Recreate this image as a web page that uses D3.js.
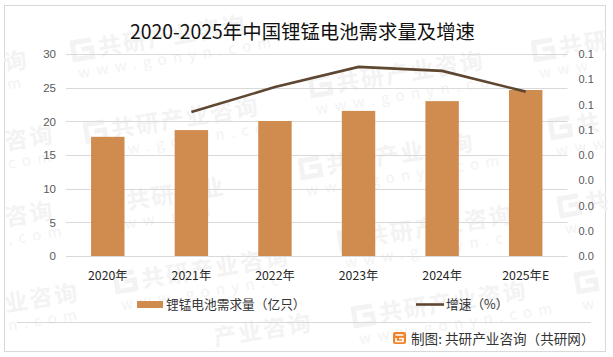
<!DOCTYPE html>
<html>
<head>
<meta charset="utf-8">
<script src="https://cdn.jsdelivr.net/npm/d3@7"></script>
<style>
  html, body { margin: 0; padding: 0; background: #fff; }
  svg { display: block; }
  text { font-family: "Noto Sans CJK SC", "Liberation Sans", sans-serif; }
</style>
</head>
<body>
<div id="chart"></div>
<script>
const categories = ["2020年", "2021年", "2022年", "2023年", "2024年", "2025年E"];
const demand = [17.7, 18.7, 20.05, 21.55, 23, 24.65];
const growth = [null, 0.057, 0.0669, 0.0749, 0.0733, 0.0651];
const leftTicks = [0, 5, 10, 15, 20, 25, 30];
const rightTicks = [0, 0.01, 0.02, 0.03, 0.04, 0.05, 0.06, 0.07, 0.08];

// watermark stamps: x, y, name, url, logo. the ones at the edge only keep the part that shows
const stamps = [
  [72, 60, "共研产业咨询", "www.gonyn.com", true],
  [310, 96, "共研产业咨询", "www.gonyn.co", true],
  [85, 142, "共研产业咨询", "www.gonyn.com", true],
  [533, 60, "共研", "www", true],
  [550, 138, "共", "www", true],
  [559, 216, "共", "w", true],
  [576, 292, "", "w", true],
  [100, 214, "共研产业", "www.gon", true],
  [300, 178, "共研产业咨询", "www.gonyn.com", true],
  [115, 292, "共研产业咨询", "www.gonyn.c", true],
  [339, 250, "共研产业咨询", "www.gonyn.com", true],
  [353, 326, "共研产业咨询", "www.gonyn.com", true],
  [5, 71, "询", "m", false],
  [6, 150, "咨询", "com", false],
  [6, 226, "咨询", ".com", false],
  [6, 312, "业咨询", "n.com", false],
  [215, 346, "产业咨询", "", false]
];

const width = 613, height = 357;
const margin = { top: 54, right: 45.5, bottom: 101, left: 66 };
const innerW = width - margin.left - margin.right;
const innerH = height - margin.top - margin.bottom;

const svg = d3.select("#chart").append("svg")
  .attr("width", width)
  .attr("height", height);

svg.append("rect")
  .attr("x", 4.5).attr("y", 5.5)
  .attr("width", 601).attr("height", 346)
  .attr("fill", "#fff")
  .attr("stroke", "#d9d9d9")
  .attr("stroke-width", 1);

// watermark goes first so the bars sit on top of it
const mark = svg.append("g");
stamps.forEach(([sx, sy, name, url, hasLogo]) => {
  const s = mark.append("g").attr("transform", `translate(${sx},${sy}) rotate(-9)`);
  if (hasLogo) {
    s.append("path")
      .attr("d", "M22 -17H3V0H21V-9H11")
      .attr("fill", "none")
      .attr("stroke", "#f3f3f3")
      .attr("stroke-width", 5);
  }
  s.append("text")
    .attr("x", hasLogo ? 28 : 0)
    .attr("font-size", 23).attr("font-weight", 700).attr("letter-spacing", 2)
    .attr("fill", "#f3f3f3")
    .text(name);
  s.append("text")
    .attr("x", hasLogo ? 4 : 0)
    .attr("y", 19)
    .attr("font-size", 15).attr("letter-spacing", 6.5)
    .attr("fill", "#f3f3f3")
    .text(url);
});

const g = svg.append("g").attr("transform", `translate(${margin.left},${margin.top})`);

const x = d3.scaleBand().domain(categories).range([0, innerW]).paddingInner(0.6).paddingOuter(0.3);
const xCenter = d => x(d) + x.bandwidth() / 2;
const y = d3.scaleLinear().domain([0, 30]).range([innerH, 0]);
const y2 = d3.scaleLinear().domain([0, 0.08]).range([innerH, 0]);

// gridlines
g.append("g")
  .selectAll("line")
  .data(leftTicks)
  .enter()
  .append("line")
  .attr("x1", 0).attr("x2", innerW)
  .attr("y1", d => Math.round(y(d)) + 0.5)
  .attr("y2", d => Math.round(y(d)) + 0.5)
  .attr("stroke", "#d9d9d9");

g.selectAll(".bar")
  .data(demand)
  .enter()
  .append("rect")
  .attr("class", "bar")
  .attr("x", (d, i) => x(categories[i]))
  .attr("y", d => y(d))
  .attr("width", x.bandwidth())
  .attr("height", d => innerH - y(d))
  .attr("fill", "#d08b4f");

const line = d3.line()
  .defined(d => d.v !== null)
  .x(d => xCenter(d.c))
  .y(d => y2(d.v));

g.append("path")
  .datum(categories.map((c, i) => ({ c, v: growth[i] })))
  .attr("fill", "none")
  .attr("stroke", "#5e4630")
  .attr("stroke-width", 2.6)
  .attr("d", line);

// axes
const leftAxis = g.append("g")
  .call(d3.axisLeft(y).tickValues(leftTicks).tickSize(0).tickPadding(10));
leftAxis.select(".domain").remove();
leftAxis.selectAll("text").style("font-size", "11.5px").style("fill", "#595959")
  .style("font-family", "'Liberation Sans', sans-serif");

const rightAxis = g.append("g")
  .attr("transform", `translate(${innerW},0)`)
  .call(d3.axisRight(y2).tickValues(rightTicks).tickFormat(d3.format(".1f")).tickSize(0).tickPadding(11));
rightAxis.select(".domain").remove();
rightAxis.selectAll("text").style("font-size", "11px").style("fill", "#595959")
  .style("font-family", "'Liberation Sans', sans-serif");

const bottomAxis = g.append("g")
  .attr("transform", `translate(0,${innerH})`)
  .call(d3.axisBottom(x).tickSize(0).tickPadding(15));
bottomAxis.select(".domain").remove();
bottomAxis.selectAll("text").style("font-size", "12.3px").style("fill", "#262626");

// title
svg.append("text")
  .attr("x", 302.5).attr("y", 39)
  .attr("text-anchor", "middle")
  .style("font-size", "19.4px")
  .style("fill", "#111")
  .text("2020-2025年中国锂锰电池需求量及增速");

// legend
svg.append("rect")
  .attr("x", 137).attr("y", 301)
  .attr("width", 26).attr("height", 7)
  .attr("fill", "#d08b4f");
svg.append("text")
  .attr("x", 166).attr("y", 309)
  .style("font-size", "12.7px").style("fill", "#333")
  .text("锂锰电池需求量（亿只）");
svg.append("line")
  .attr("x1", 416).attr("x2", 444)
  .attr("y1", 304.5).attr("y2", 304.5)
  .attr("stroke", "#5e4630").attr("stroke-width", 2.6);
svg.append("text")
  .attr("x", 446).attr("y", 309)
  .style("font-size", "12.7px").style("fill", "#333")
  .text("增速（%）");

// footer
svg.append("line")
  .attr("x1", 17).attr("x2", 591)
  .attr("y1", 322.5).attr("y2", 322.5)
  .attr("stroke", "#d9d9d9");
const logo = svg.append("g").attr("transform", "translate(393,332)");
logo.append("rect").attr("width", 13).attr("height", 12).attr("rx", 2).attr("fill", "#f0832a");
logo.append("path").attr("d", "M2.5 3H10.5M6 6.5H10V9.5H3V6").attr("fill", "none").attr("stroke", "#fff").attr("stroke-width", 1.7);
svg.append("text")
  .attr("x", 411).attr("y", 344)
  .style("font-size", "13.6px").style("fill", "#333")
  .text("制图: 共研产业咨询（共研网）");
</script>
</body>
</html>
